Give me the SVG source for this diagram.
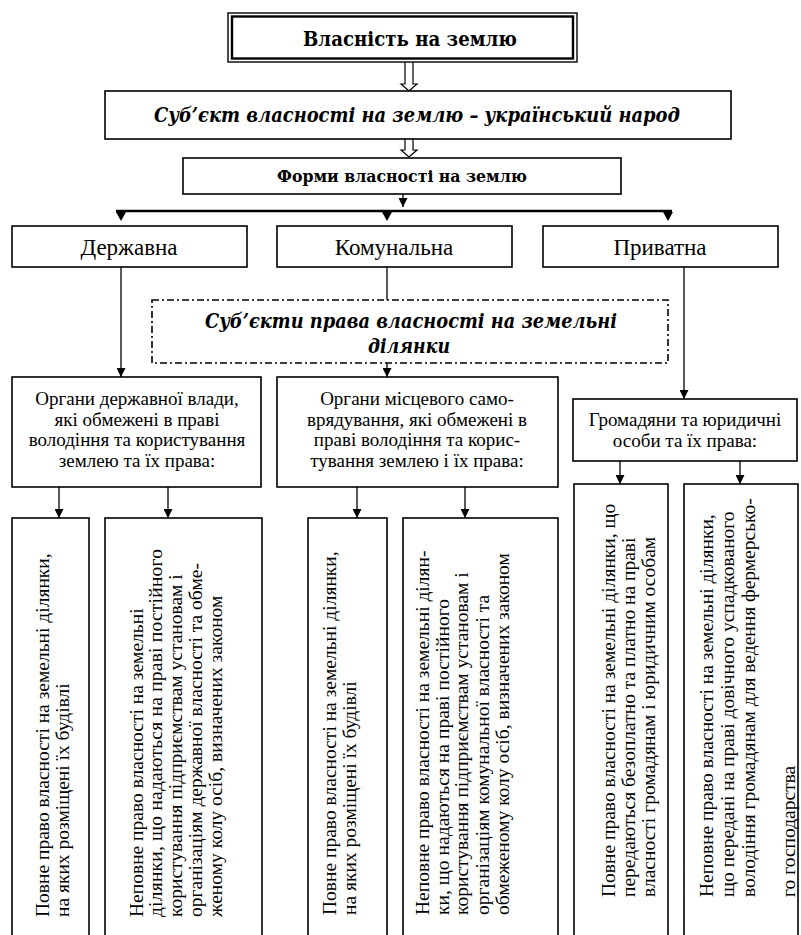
<svg xmlns="http://www.w3.org/2000/svg" width="801" height="935" viewBox="0 0 801 935">
<style>
text{font-family:"Liberation Serif","Times New Roman",serif;fill:#000}
.hb{font-family:"DejaVu Serif","Liberation Serif",serif;font-weight:bold;text-anchor:middle}
.hi{font-family:"DejaVu Serif","Liberation Serif",serif;font-weight:bold;font-style:italic;text-anchor:middle}
.box{fill:#fff;stroke:#000;stroke-width:1.6}
.t{font-family:"Liberation Serif","Times New Roman",serif;font-size:19px;text-anchor:middle}
.lv{font-family:"Liberation Serif","Times New Roman",serif;font-size:23px;text-anchor:middle}
.ln{fill:none;stroke:#000;stroke-width:1.3}
.hol{fill:#fff;stroke:#000;stroke-width:1.2}
.v{font-family:"Liberation Serif","Times New Roman",serif;font-size:19.5px}
</style>
<defs>
<marker id="ah" viewBox="0 0 10 10" refX="10" refY="5" markerWidth="9" markerHeight="9" markerUnits="userSpaceOnUse" orient="auto">
<path d="M0,0 L10,5 L0,10 Z" fill="#000"/>
</marker>
</defs>

<g id="connectors">
<path class="hol" d="M405,62 V84 H401 L409,91 L417,84 H413 V62"/>
<path class="hol" d="M405,139 V150 H401 L409,157 L417,150 H413 V139"/>
<line class="ln" x1="403" y1="194" x2="403" y2="207" marker-end="url(#ah)"/>
<line x1="116" y1="211" x2="672" y2="211" stroke="#000" stroke-width="2.6"/>
<path d="M116,212 L126,212 L121,221 Z"/>
<path d="M382,212 L392,212 L387,221 Z"/>
<path d="M663,212 L673,212 L668,221 Z"/>
<line class="ln" x1="121" y1="267" x2="121" y2="377" marker-end="url(#ah)"/>
<line class="ln" x1="387" y1="267" x2="387" y2="300"/>
<line class="ln" x1="387" y1="363" x2="387" y2="377" marker-end="url(#ah)"/>
<line class="ln" x1="684" y1="267" x2="684" y2="399" marker-end="url(#ah)"/>
<line class="ln" x1="59" y1="487" x2="59" y2="518" marker-end="url(#ah)"/>
<line class="ln" x1="168" y1="487" x2="168" y2="518" marker-end="url(#ah)"/>
<line class="ln" x1="357" y1="487" x2="357" y2="518" marker-end="url(#ah)"/>
<line class="ln" x1="465" y1="487" x2="465" y2="518" marker-end="url(#ah)"/>
<line class="ln" x1="620" y1="461" x2="620" y2="484" marker-end="url(#ah)"/>
<line class="ln" x1="740" y1="461" x2="740" y2="484" marker-end="url(#ah)"/>
</g>

<g id="title">
<rect x="228" y="13" width="349" height="49" fill="#fff" stroke="#000" stroke-width="1.4"/>
<rect x="232" y="16.5" width="341" height="42" fill="none" stroke="#000" stroke-width="2.4"/>
<text x="410" y="46" class="hb" font-size="21" textLength="214" lengthAdjust="spacingAndGlyphs">Власність на землю</text>
</g>

<g id="subject">
<rect class="box" x="105" y="91" width="626" height="48"/>
<text x="417" y="122" class="hi" font-size="21" textLength="526" lengthAdjust="spacingAndGlyphs">Суб’єкт власності на землю – український народ</text>
</g>

<g id="forms">
<rect class="box" x="183" y="158" width="438" height="36"/>
<text x="402" y="182" class="hb" font-size="17" textLength="250" lengthAdjust="spacingAndGlyphs">Форми власності на землю</text>
</g>

<g id="state">
<rect class="box" x="12" y="226" width="235" height="41"/>
<text x="129" y="255" class="lv">Державна</text>
</g>
<g id="communal">
<rect class="box" x="277" y="226" width="235" height="41"/>
<text x="394" y="255" class="lv">Комунальна</text>
</g>
<g id="private">
<rect class="box" x="543" y="226" width="235" height="41"/>
<text x="660" y="255" class="lv">Приватна</text>
</g>

<g id="subjects">
<rect x="152" y="300" width="516" height="63" fill="#fff" stroke="#000" stroke-width="1.6" stroke-dasharray="7,3,2,3"/>
<text x="411" y="328" class="hi" font-size="21" textLength="412" lengthAdjust="spacingAndGlyphs">Суб’єкти права власності на земельні</text>
<text x="409" y="353" class="hi" font-size="21" textLength="82" lengthAdjust="spacingAndGlyphs">ділянки</text>
</g>

<g id="organs-state">
<rect class="box" x="12" y="377" width="249" height="110"/>
<text class="t" x="137" y="405">Органи державної влади,</text>
<text class="t" x="137" y="425.5">які обмежені в праві</text>
<text class="t" x="137" y="446">володіння та користування</text>
<text class="t" x="137" y="466.5">землею та їх права:</text>
</g>

<g id="organs-local">
<rect class="box" x="277" y="377" width="281" height="110"/>
<text class="t" x="417" y="405">Органи місцевого само-</text>
<text class="t" x="417" y="425.5">врядування, які обмежені в</text>
<text class="t" x="417" y="446">праві володіння та корис-</text>
<text class="t" x="417" y="466.5">тування землею і їх права:</text>
</g>

<g id="citizens">
<rect class="box" x="573" y="399" width="224" height="62"/>
<text class="t" x="685" y="426">Громадяни та юридичні</text>
<text class="t" x="685" y="447">особи та їх права:</text>
</g>

<g id="full-state">
<rect class="box" x="12" y="518" width="77" height="430"/>
<g transform="translate(0,917) rotate(-90)">
<text class="v" x="0" y="49">Повне право власності на земельні ділянки,</text>
<text class="v" x="0" y="69">на яких розміщені їх будівлі</text>
</g>
</g>

<g id="partial-state">
<rect class="box" x="105" y="518" width="157" height="430"/>
<g transform="translate(0,917) rotate(-90)">
<text class="v" x="0" y="143">Неповне право власності на земельні</text>
<text class="v" x="0" y="162" textLength="368" lengthAdjust="spacing">ділянки, що надаються на праві постійного</text>
<text class="v" x="0" y="182">користування підприємствам установам і</text>
<text class="v" x="0" y="202">організаціям державної власності та обме-</text>
<text class="v" x="0" y="222">женому колу осіб, визначених законом</text>
</g>
</g>

<g id="full-local">
<rect class="box" x="308" y="518" width="79" height="430"/>
<g transform="translate(0,915) rotate(-90)">
<text class="v" x="0" y="336">Повне право власності на земельні ділянки,</text>
<text class="v" x="0" y="356">на яких розміщені їх будівлі</text>
</g>
</g>

<g id="partial-local">
<rect class="box" x="403" y="518" width="155" height="430"/>
<g transform="translate(0,915) rotate(-90)">
<text class="v" x="0" y="429">Неповне право власності на земельні ділян-</text>
<text class="v" x="0" y="449" textLength="316" lengthAdjust="spacing">ки, що надаються на праві постійного</text>
<text class="v" x="0" y="468">користування підприємствам установам і</text>
<text class="v" x="0" y="489">організаціям комунальної власності та</text>
<text class="v" x="0" y="509">обмеженому колу осіб, визначених законом</text>
</g>
</g>

<g id="full-private">
<rect class="box" x="574" y="484" width="94" height="460"/>
<g transform="translate(0,897) rotate(-90)">
<text class="v" x="0" y="615">Повне право власності на земельні ділянки, що</text>
<text class="v" x="0" y="635">передаються безоплатно та платно на праві</text>
<text class="v" x="0" y="655">власності громадянам і юридичним особам</text>
</g>
</g>

<g id="partial-private">
<rect class="box" x="684" y="484" width="114" height="460"/>
<g transform="translate(0,897) rotate(-90)">
<text class="v" x="0" y="713">Неповне право власності на земельні ділянки,</text>
<text class="v" x="0" y="734">що передані на праві довічного успадкованого</text>
<text class="v" x="0" y="755">володіння громадянам для ведення фермерсько-</text>
<text class="v" x="0" y="795">го господарства</text>
</g>
</g>
</svg>
